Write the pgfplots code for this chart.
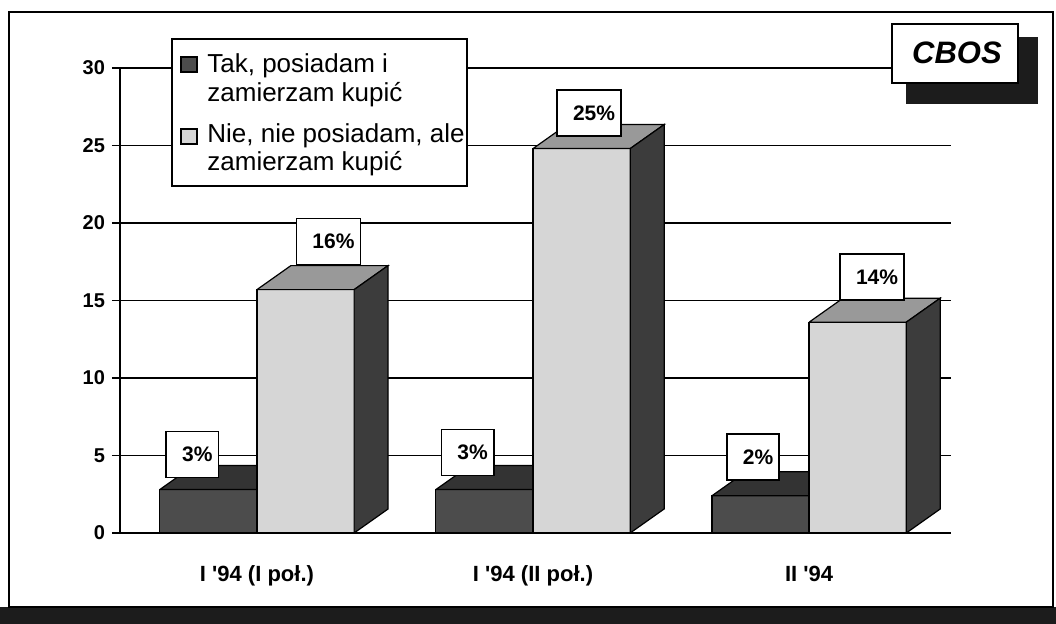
\documentclass[border=0pt]{standalone}
\usepackage{fontspec}
\setmainfont{Liberation Sans}
\usepackage{pgfplots}
\pgfplotsset{compat=1.18}
\definecolor{darkfront}{HTML}{4C4C4C}
\definecolor{darktop}{HTML}{333333}
\definecolor{lightfront}{HTML}{D6D6D6}
\definecolor{lighttop}{HTML}{999999}
\definecolor{lightside}{HTML}{3C3C3C}
\definecolor{shadowc}{HTML}{1C1C1C}
\begin{document}
\begin{tikzpicture}
\useasboundingbox (-60pt,-45.5pt) rectangle (468pt,266.5pt);
\fill[white] (-60pt,-45.5pt) rectangle (468pt,266.5pt);
\fill[shadowc] (-60pt,-45.5pt) rectangle (468pt,-37pt);
\draw[line width=1pt] (-55.5pt,-37pt) rectangle (466.5pt,260.5pt);
\begin{axis}[
  scale only axis, width=415.5pt, height=232.5pt,
  xmin=-0.496, xmax=2.514, ymin=0, ymax=30,
  axis x line*=bottom, axis y line*=left,
  axis line style={line width=0.8pt, black},
  ytick={0,5,...,30},
  ymajorgrids, grid style={line width=0.7pt, black},
  major tick length=4pt, tick align=outside,
  ytick style={line width=0.8pt, black},
  xtick={0,1,2}, xtick style={draw=none},
  xticklabels={I \textquotesingle94 (I poł.), I \textquotesingle94 (II poł.), II \textquotesingle94},
  yticklabel style={font=\bfseries\fontsize{10}{12}\selectfont},
  xticklabel style={font=\bfseries\fontsize{11}{13}\selectfont, yshift=-9pt},
  /pgf/number format/assume math mode=true,
]
% front faces of the dark bars
\addplot[ybar, bar width=0.352, bar shift=-0.176, fill=darkfront, draw=black, line width=0.6pt]
  coordinates {(0,2.8) (1,2.8) (2,2.4)};
% top faces of the dark bars
\addplot[fill=darktop, draw=black, line width=0.6pt] coordinates {(-0.352,2.8) (-0.229,4.35) (0.123,4.35) (0,2.8) (-0.352,2.8)};
\addplot[fill=darktop, draw=black, line width=0.6pt] coordinates {(0.648,2.8) (0.771,4.35) (1.123,4.35) (1,2.8) (0.648,2.8)};
\addplot[fill=darktop, draw=black, line width=0.6pt] coordinates {(1.648,2.4) (1.771,3.95) (2.123,3.95) (2,2.4) (1.648,2.4)};
% front faces of the light bars
\addplot[ybar, bar width=0.352, bar shift=0.176, fill=lightfront, draw=black, line width=0.6pt]
  coordinates {(0,15.7) (1,24.8) (2,13.6)};
% top faces of the light bars
\addplot[fill=lighttop, draw=black, line width=0.6pt] coordinates {(0,15.7) (0.123,17.25) (0.475,17.25) (0.352,15.7) (0,15.7)};
\addplot[fill=lighttop, draw=black, line width=0.6pt] coordinates {(1,24.8) (1.123,26.35) (1.475,26.35) (1.352,24.8) (1,24.8)};
\addplot[fill=lighttop, draw=black, line width=0.6pt] coordinates {(2,13.6) (2.123,15.15) (2.475,15.15) (2.352,13.6) (2,13.6)};
% side faces of the light bars
\addplot[fill=lightside, draw=black, line width=0.6pt] coordinates {(0.352,0) (0.475,1.55) (0.475,17.25) (0.352,15.7) (0.352,0)};
\addplot[fill=lightside, draw=black, line width=0.6pt] coordinates {(1.352,0) (1.475,1.55) (1.475,26.35) (1.352,24.8) (1.352,0)};
\addplot[fill=lightside, draw=black, line width=0.6pt] coordinates {(2.352,0) (2.475,1.55) (2.475,15.15) (2.352,13.6) (2.352,0)};
% value labels
\addplot[draw=none, mark=none, point meta=explicit symbolic,
  nodes near coords={\hspace*{5pt}\pgfplotspointmeta\%},
  nodes near coords align=center,
  every node near coord/.append style={anchor=center, draw=black, fill=white, line width=0.8pt,
    font=\bfseries\fontsize{10.5}{12}\selectfont, inner xsep=3pt, inner ysep=0pt, minimum height=23pt}]
  table[x=x, y=y, meta=lab] {
x y lab
-0.234 5.06 3
0.259 18.8 16
0.763 5.2 3
1.203 27.1 25
1.797 4.9 2
2.228 16.5 14
};
\end{axis}
% legend
\draw[fill=white, line width=0.8pt] (26pt,173.5pt) rectangle (173.5pt,247pt);
\draw[fill=darkfront, line width=0.6pt] (30.5pt,230.5pt) rectangle (38.5pt,238pt);
\draw[fill=lightfront, line width=0.6pt] (30.5pt,194.5pt) rectangle (38.5pt,202pt);
\begin{scope}[every node/.style={anchor=base west, inner sep=0pt, font=\fontsize{13}{15}\selectfont}]
\node at (43.5pt,230pt) {Tak, posiadam i};
\node at (43.5pt,215.5pt) {zamierzam kupić};
\node at (43.5pt,195pt) {Nie, nie posiadam, ale};
\node at (43.5pt,181pt) {zamierzam kupić};
\end{scope}
% CBOS badge
\fill[shadowc] (393pt,214.5pt) rectangle (459pt,248pt);
\draw[fill=white, line width=0.9pt] (386pt,225pt) rectangle (449pt,254.5pt);
\node[anchor=base, inner sep=0pt, font=\bfseries\itshape\fontsize{15.5}{18}\selectfont] at (418.5pt,234.5pt) {CBOS};
\end{tikzpicture}
\end{document}
